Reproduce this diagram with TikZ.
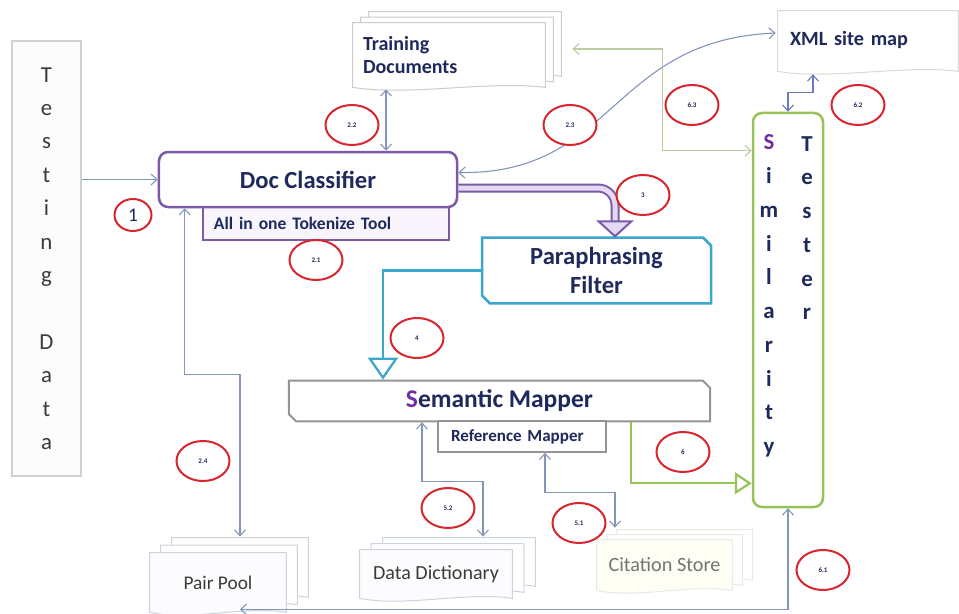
\documentclass[tikz,border=0pt]{standalone}
\usepackage{fontspec}
\setmainfont{Carlito}
\usetikzlibrary{arrows.meta,calc,shapes.geometric,shapes.misc}
\pgfdeclarelayer{background}
\pgfsetlayers{background,main}

\definecolor{navy}{HTML}{1F2A5C}
\definecolor{ink}{HTML}{3A3A3A}
\definecolor{plum}{HTML}{7B5BA8}
\definecolor{lav}{HTML}{E4DAF2}
\definecolor{sky}{HTML}{3BA7CC}
\definecolor{leaf}{HTML}{96C45A}
\definecolor{wire}{HTML}{8496B8}
\definecolor{pale}{HTML}{BCCDA2}
\definecolor{ring}{HTML}{D7262E}
\definecolor{violet}{HTML}{7030A0}
\definecolor{docgray}{HTML}{CDD3DD}

% outline of one sheet: flat top, wavy bottom
\newcommand{\docpath}[1]{(#1.north west) -- (#1.north east) -- (#1.south east)
  .. controls ($(#1.south east)!0.3!(#1.south west)+(0,-7)$) and ($(#1.south east)!0.7!(#1.south west)+(0,9)$) .. (#1.south west) -- cycle}

\tikzset{
  conn/.style={wire, line width=0.22mm, >={Straight Barb[length=1.2mm,width=2.2mm]}},
  num/.style={ellipse, draw=ring, line width=0.4mm, fill=white, minimum width=10.6mm,
    minimum height=8mm, inner sep=0pt, text=navy, font=\fontsize{4}{4}\selectfont\bfseries},
  docnode/.style={draw=none, inner xsep=2mm, inner ysep=0pt},
  plainbox/.style={draw=black!18, fill=black!1, line width=0.25mm}
}

\begin{document}
\begin{tikzpicture}[x=0.2mm, y=-0.2mm]
\useasboundingbox (0,0) rectangle (959,614);

% main blocks
\node[plainbox, minimum width=13.8mm, minimum height=87mm, text=ink,
  align=center, font=\fontsize{13}{19}\selectfont] (testing) at (46.5,258.5)
  {T\\e\\s\\t\\i\\n\\g\\[19pt]D\\a\\t\\a};
\node[draw=plum, fill=lav!25, line width=0.35mm, minimum width=49.2mm, minimum height=6.6mm,
  inner xsep=2.2mm, text width=44.8mm, align=left, text=navy,
  font=\fontsize{10}{12}\selectfont\bfseries] (tokenize) at (326,223.5) {All in one Tokenize Tool};
\node[draw=plum, fill=white, line width=0.5mm, rounded corners=1.8mm, minimum width=59.6mm,
  minimum height=11mm, text=navy, font=\fontsize{14}{16}\selectfont\bfseries] (doccls) at (308,179.5) {Doc Classifier};
\node[chamfered rectangle, chamfered rectangle corners={north east,south west},
  chamfered rectangle xsep=0.8mm, chamfered rectangle ysep=0.8mm, draw=sky, fill=white,
  line width=0.5mm, minimum width=45.8mm, minimum height=13mm, align=center, text=navy,
  font=\fontsize{14}{16.4}\selectfont\bfseries] (para) at (596.5,270.5) {Paraphrasing\\Filter};
\node[chamfered rectangle, chamfered rectangle corners={north east,south west},
  chamfered rectangle xsep=0.7mm, chamfered rectangle ysep=0.7mm, draw=black!42, fill=white,
  line width=0.4mm, minimum width=84.2mm, minimum height=8mm, text=navy,
  font=\fontsize{14.5}{16}\selectfont\bfseries] (semantic) at (499.5,401)
  {{\color{violet}S}emantic Mapper};
\node[draw=black!42, fill=white, line width=0.3mm, minimum width=33.6mm, minimum height=6.2mm,
  inner xsep=2.6mm, text width=28.4mm, align=left, text=navy,
  font=\fontsize{9.7}{11}\selectfont\bfseries] (refmap) at (522,436.5) {Reference Mapper};
\node[draw=leaf, fill=white, line width=0.5mm, rounded corners=1.8mm, minimum width=14mm,
  minimum height=78.8mm] (sim) at (788,310) {};
\node[align=center, text=navy, font=\fontsize{13}{19.2}\selectfont\bfseries] (simA) at (769,296)
  {{\color{violet}S}\\i\\m\\i\\l\\a\\r\\i\\t\\y};
\node[align=center, text=navy, font=\fontsize{13}{19.2}\selectfont\bfseries] (simB) at (807,228)
  {T\\e\\s\\t\\e\\r};

% document stacks
\node[docnode, minimum width=38.4mm, minimum height=12.8mm] (train3) at (465,44) {};
\node[docnode, minimum width=38.4mm, minimum height=12.8mm] (train2) at (457,49.5) {};
\node[docnode, minimum width=38.4mm, minimum height=12.8mm, text width=34.4mm, align=left,
  text=navy, font=\fontsize{11.4}{12.6}\selectfont\bfseries] (training) at (449,55) {Training\\Documents};
\node[docnode, minimum width=36mm, minimum height=12mm, inner xsep=2.4mm, text width=31.2mm,
  align=left, text=navy, font=\fontsize{11.5}{13}\selectfont\bfseries] (xml) at (868,41)
  {\raisebox{1mm}{XML site map}};
\node[docnode, minimum width=27.2mm, minimum height=11.8mm] (pair3) at (240,567.5) {};
\node[docnode, minimum width=27.2mm, minimum height=11.8mm] (pair2) at (229,575) {};
\node[docnode, minimum width=27.2mm, minimum height=11.8mm, text=ink,
  font=\fontsize{11}{13}\selectfont] (pairpool) at (218,582.5) {Pair Pool};
\node[docnode, minimum width=30.4mm, minimum height=9.6mm] (dict3) at (459,562) {};
\node[docnode, minimum width=30.4mm, minimum height=9.6mm] (dict2) at (447.5,568) {};
\node[docnode, minimum width=30.4mm, minimum height=9.6mm, text=ink,
  font=\fontsize{11.4}{13}\selectfont] (datadict) at (436,574) {Data Dictionary};
\node[docnode, minimum width=27mm, minimum height=10mm] (cite3) at (684.5,555) {};
\node[docnode, minimum width=27mm, minimum height=10mm] (cite2) at (674.5,560) {};
\node[docnode, minimum width=27mm, minimum height=10mm, text=black!55,
  font=\fontsize{11.5}{13}\selectfont] (citation) at (664.5,565) {Citation Store};

\begin{pgfonlayer}{background}
  \filldraw[draw=black!20, fill=white, line width=0.2mm] \docpath{train3};
  \filldraw[draw=black!20, fill=white, line width=0.2mm] \docpath{train2};
  \filldraw[draw=black!20, fill=white, line width=0.2mm] \docpath{training};
  \filldraw[draw=black!15, fill=white, line width=0.2mm] \docpath{xml};
  \filldraw[draw=docgray, fill=white, line width=0.2mm] \docpath{pair3};
  \filldraw[draw=docgray, fill=white, line width=0.2mm] \docpath{pair2};
  \filldraw[draw=docgray, fill=blue!1, line width=0.2mm] \docpath{pairpool};
  \filldraw[draw=docgray, fill=white, line width=0.2mm] \docpath{dict3};
  \filldraw[draw=docgray, fill=white, line width=0.2mm] \docpath{dict2};
  \filldraw[draw=docgray, fill=blue!1, line width=0.2mm] \docpath{datadict};
  \filldraw[draw=yellow!20!black!12, fill=white, line width=0.2mm] \docpath{cite3};
  \filldraw[draw=yellow!20!black!12, fill=white, line width=0.2mm] \docpath{cite2};
  \filldraw[draw=yellow!20!black!12, fill=yellow!4, line width=0.2mm] \docpath{citation};
\end{pgfonlayer}

% connectors
\draw[conn,->] (testing.east |- doccls.west) -- (doccls.west);
\draw[conn,<->] ($(doccls.north)+(78,0)$) -- ($(training.south)+(-63,2)$);
\draw[conn,<->] ($(doccls.east)+(0,-7)$) .. controls (615,175) and (610,40) .. ($(xml.west)+(-2,-8)$);
\draw[pale, line width=0.22mm, >={Straight Barb[length=1.2mm,width=2.2mm]}, <->]
  ($(training.east)+(27,-6)$) -- ++(90,0) |- ($(sim.north west)+(0,39)$);
\draw[conn, wire!80!blue, <->] (sim.north) -- ++(0,-19) -| ($(xml.south)+(-55,3)$);
\draw[conn,<->] ($(doccls.south west)+(27,0)$) -- ++(0,166) -| ($(pair3.north)+(0,-1)$);
\draw[conn,<->] ($(semantic.south)+(-77.5,0)$) -- ++(0,59) -| ($(dict3.north)+(24,-1)$);
\draw[conn,<->] ($(refmap.south)+(23,0)$) -- ++(0,40) -| ($(cite3.north)+(-69.5,-2)$);
\draw[conn,<->] (sim.south) |- ($(pairpool.south)+(22,-3)$);

% thick flow arrows
\draw[plum, line width=0.4mm, double=lav, double distance=1mm, rounded corners=3.4mm]
  ($(doccls.east)+(0,8.5)$) -| ($(para.north)+(18.5,-13)$);
\filldraw[plum, fill=lav, line width=0.4mm] ($(para.north)+(2,-15)$) -- ($(para.north)+(35,-15)$)
  -- ($(para.north)+(18.5,0)$) -- cycle;
\draw[sky, line width=0.45mm, -{Triangle[open, length=4.4mm, width=6mm]}]
  (para.west) -| ($(semantic.north)+(-116.5,0)$);
\draw[leaf, line width=0.45mm, -{Triangle[open, length=3.4mm, width=4.4mm]}]
  ($(semantic.south)+(131.5,0)$) |- ($(sim.south west)+(0,-25)$);

% step marks
\node[num, minimum width=7.4mm, minimum height=6.4mm, font=\fontsize{11}{12}\selectfont] (n1) at (133,215) {1};
\node[num] (n21) at (316,260) {2.1};
\node[num] (n22) at (352,125) {2.2};
\node[num] (n23) at (570,125) {2.3};
\node[num] (n24) at (203,461) {2.4};
\node[num] (n3) at (643,195) {3};
\node[num] (n4) at (417,338) {4};
\node[num] (n51) at (579,523) {5.1};
\node[num] (n52) at (448,508) {5.2};
\node[num] (n6) at (683,452) {6};
\node[num] (n61) at (823,570) {6.1};
\node[num] (n62) at (858,105) {6.2};
\node[num] (n63) at (692,105) {6.3};
\end{tikzpicture}
\end{document}
